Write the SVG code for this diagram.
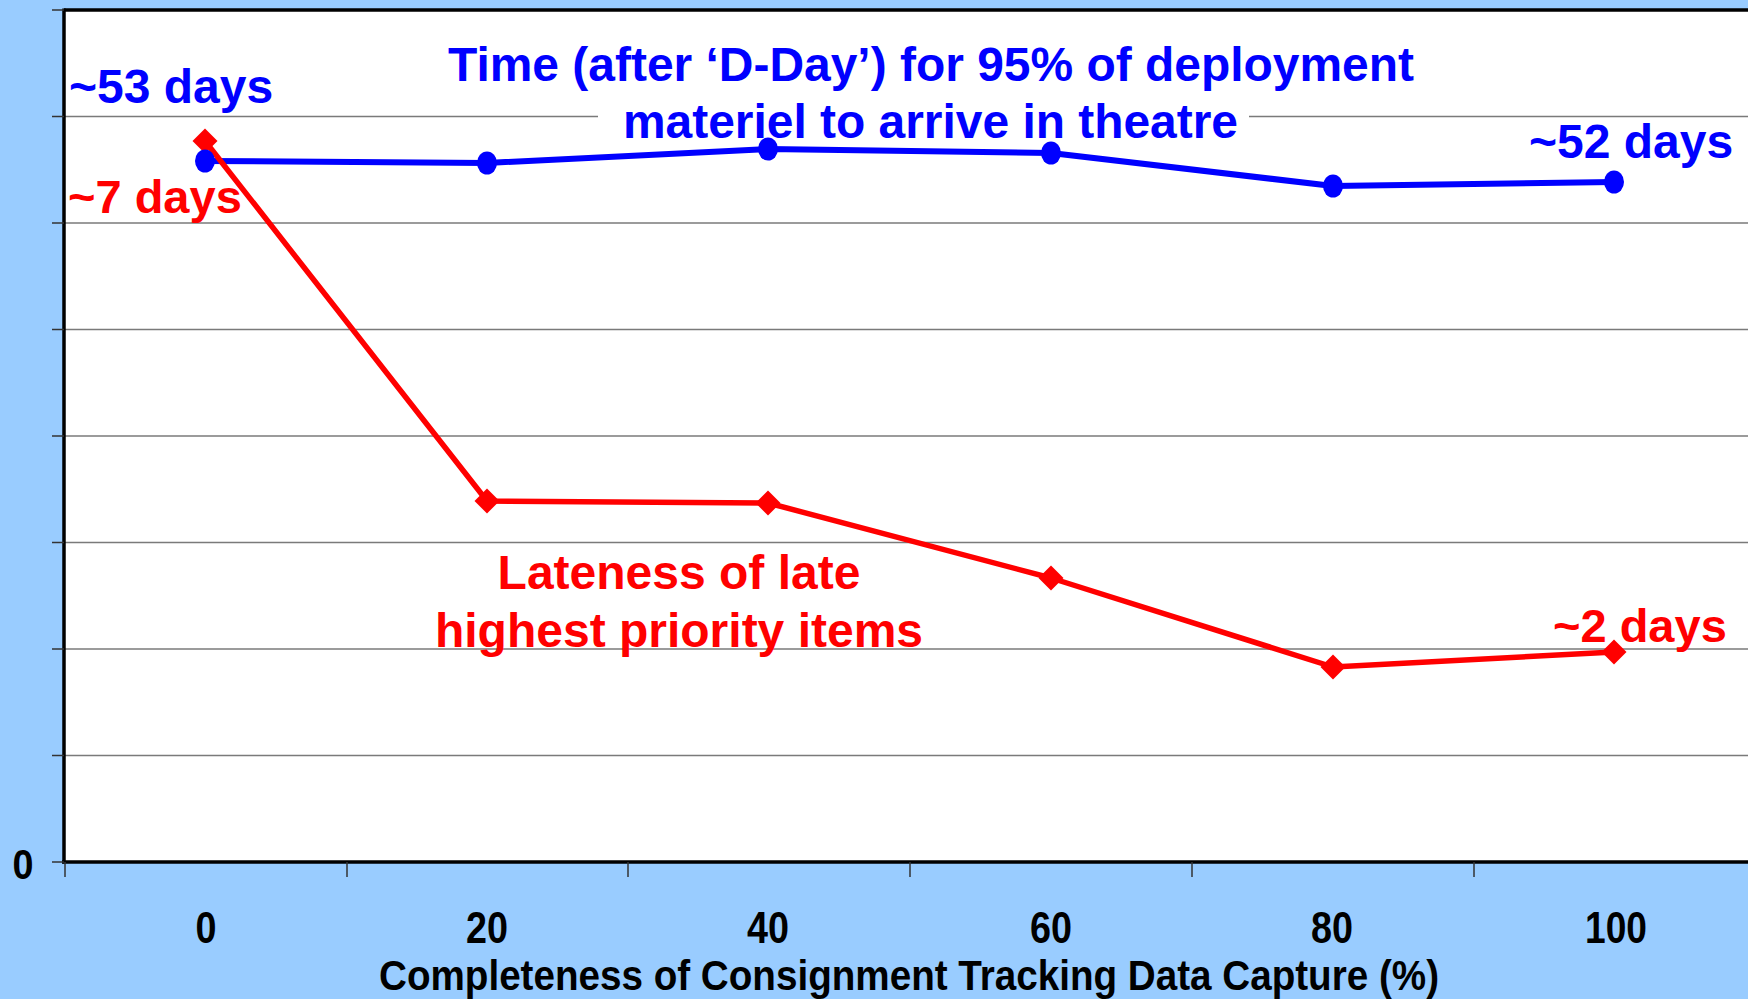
<svg xmlns="http://www.w3.org/2000/svg" width="1748" height="999" viewBox="0 0 1748 999">
<style>
.narrow{font-family:"Liberation Sans",Arial,sans-serif;font-weight:bold;fill:#000}
.lbl{font-family:"Liberation Sans",Arial,sans-serif;font-weight:bold}
.grid{stroke:#7a7a7a;stroke-width:1.5}
.tick{stroke:#333;stroke-width:1.5}
.blue{fill:#0000FF}
.red{fill:#FF0000}
</style>
<defs>
<path id="dia" d="M0,-12.5 L12.5,0 L0,12.5 L-12.5,0 Z" fill="#FF0000"/>
<ellipse id="dot" rx="10" ry="11.5" fill="#0000FF"/>
</defs>
<rect x="0" y="0" width="1748" height="999" fill="#99CCFF"/>
<rect x="64" y="10" width="1684" height="852" fill="#FFFFFF"/>
<g id="grid">
<line class="grid" x1="64" y1="116.5" x2="1748" y2="116.5"/>
<line class="grid" x1="64" y1="223" x2="1748" y2="223"/>
<line class="grid" x1="64" y1="329.5" x2="1748" y2="329.5"/>
<line class="grid" x1="64" y1="436" x2="1748" y2="436"/>
<line class="grid" x1="64" y1="542.5" x2="1748" y2="542.5"/>
<line class="grid" x1="64" y1="649" x2="1748" y2="649"/>
<line class="grid" x1="64" y1="755.5" x2="1748" y2="755.5"/>
</g>
<g id="axes">
<line x1="64" y1="10" x2="1748" y2="10" stroke="#000" stroke-width="3.5"/>
<line x1="64" y1="8.5" x2="64" y2="863.5" stroke="#000" stroke-width="3.5"/>
<line x1="62" y1="862" x2="1748" y2="862" stroke="#000" stroke-width="3.5"/>
<g class="tick">
<line x1="52" y1="10" x2="64" y2="10"/>
<line x1="52" y1="116.5" x2="64" y2="116.5"/>
<line x1="52" y1="223" x2="64" y2="223"/>
<line x1="52" y1="329.5" x2="64" y2="329.5"/>
<line x1="52" y1="436" x2="64" y2="436"/>
<line x1="52" y1="542.5" x2="64" y2="542.5"/>
<line x1="52" y1="649" x2="64" y2="649"/>
<line x1="52" y1="755.5" x2="64" y2="755.5"/>
<line x1="52" y1="862" x2="64" y2="862"/>
<line x1="65" y1="862" x2="65" y2="877"/>
<line x1="347" y1="862" x2="347" y2="877"/>
<line x1="628" y1="862" x2="628" y2="877"/>
<line x1="910" y1="862" x2="910" y2="877"/>
<line x1="1192" y1="862" x2="1192" y2="877"/>
<line x1="1474" y1="862" x2="1474" y2="877"/>
</g>
</g>
<g id="axis-labels">
<text class="narrow" x="23" y="879" font-size="43" text-anchor="middle" textLength="21" lengthAdjust="spacingAndGlyphs">0</text>
<text class="narrow" x="206" y="943" font-size="45" text-anchor="middle" textLength="21" lengthAdjust="spacingAndGlyphs">0</text>
<text class="narrow" x="487" y="943" font-size="45" text-anchor="middle" textLength="42" lengthAdjust="spacingAndGlyphs">20</text>
<text class="narrow" x="768" y="943" font-size="45" text-anchor="middle" textLength="42" lengthAdjust="spacingAndGlyphs">40</text>
<text class="narrow" x="1051" y="943" font-size="45" text-anchor="middle" textLength="42" lengthAdjust="spacingAndGlyphs">60</text>
<text class="narrow" x="1332" y="943" font-size="45" text-anchor="middle" textLength="42" lengthAdjust="spacingAndGlyphs">80</text>
<text class="narrow" x="1616" y="943" font-size="45" text-anchor="middle" textLength="62" lengthAdjust="spacingAndGlyphs">100</text>
<text class="narrow" x="909" y="990" font-size="43" text-anchor="middle" textLength="1060" lengthAdjust="spacingAndGlyphs">Completeness of Consignment Tracking Data Capture (%)</text>
</g>
<g id="title">
<rect x="598" y="98" width="651" height="40" fill="#FFFFFF"/>
<text class="lbl blue" x="931" y="81" font-size="48" text-anchor="middle" textLength="966" lengthAdjust="spacingAndGlyphs">Time (after ‘D-Day’) for 95% of deployment</text>
<text class="lbl blue" x="930.5" y="138" font-size="48" text-anchor="middle" textLength="615" lengthAdjust="spacingAndGlyphs">materiel to arrive in theatre</text>
</g>
<g id="connectors">
<polyline points="205,161 487,163 768,149 1051,153 1333,186 1614,182" fill="none" stroke="#0000FF" stroke-width="6" stroke-linejoin="round"/>
<polyline points="205,141 487,501 768,503 1051,578 1333,667 1614,652" fill="none" stroke="#FF0000" stroke-width="5.5" stroke-linejoin="round"/>
</g>
<g id="series-red">
<use href="#dia" x="205" y="141"/>
<use href="#dia" x="487" y="501"/>
<use href="#dia" x="768" y="503"/>
<use href="#dia" x="1051" y="578"/>
<use href="#dia" x="1333" y="667"/>
<use href="#dia" x="1614" y="652"/>
</g>
<g id="series-blue">
<use href="#dot" x="205" y="161"/>
<use href="#dot" x="487" y="163"/>
<use href="#dot" x="768" y="149"/>
<use href="#dot" x="1051" y="153"/>
<use href="#dot" x="1333" y="186"/>
<use href="#dot" x="1614" y="182"/>
</g>
<g id="annotations">
<text class="lbl blue" x="69" y="103" font-size="48">~53 days</text>
<text class="lbl red" x="68" y="213" font-size="47">~7 days</text>
<text class="lbl blue" x="1529" y="158" font-size="48">~52 days</text>
<text class="lbl red" x="1553" y="642" font-size="47">~2 days</text>
<text class="lbl red" x="679" y="589" font-size="48" text-anchor="middle">Lateness of late</text>
<text class="lbl red" x="679" y="647" font-size="48" text-anchor="middle">highest priority items</text>
</g>
</svg>
